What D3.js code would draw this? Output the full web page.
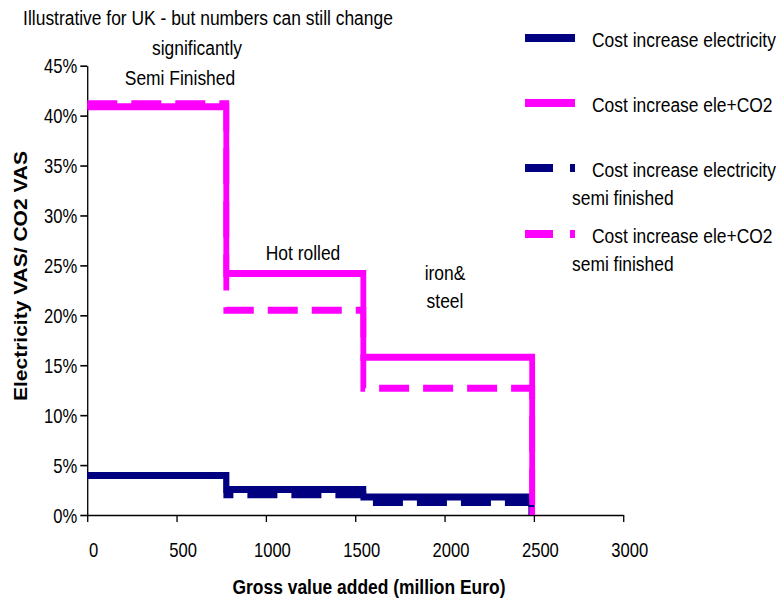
<!DOCTYPE html>
<html lang="en">
<head>
    <meta charset="UTF-8">
    <title>Cost increase chart</title>
    <script src="https://cdnjs.cloudflare.com/ajax/libs/d3/7.8.5/d3.min.js"></script>
    <style>
        body {
            margin: 0;
            padding: 0;
            background: #fff;
        }
        svg text {
            font-family: 'Liberation Sans', Arial, sans-serif;
            fill: #000;
        }
    </style>
</head>
<body>
    <div id="chart"></div>

    <script>
        // stage boundaries (million Euro) and the value each series takes on them (%)
        const stageStarts = [0, 778, 1545];
        const stageEnds = [2485, 2490, 2485, 2490];
        const elec = [3.95, 2.55, 1.8];
        const eleCO2 = [40.9, 24.2, 15.8];
        const elecSemi = [3.95, 2.03, 1.25];
        const eleCO2Semi = [41.2, 20.5, 12.7];

        const xTicks = [0, 500, 1000, 1500, 2000, 2500, 3000];
        const yTicks = [0, 5, 10, 15, 20, 25, 30, 35, 40, 45];

        const seriesNames = [
            ['Cost increase electricity'],
            ['Cost increase ele+CO2'],
            ['Cost increase electricity', 'semi finished'],
            ['Cost increase ele+CO2', 'semi finished']
        ];

        const series = [
            { values: elec, end: stageEnds[0], color: '#000080', dashed: false },
            { values: eleCO2, end: stageEnds[1], color: '#ff00ff', dashed: false },
            { values: elecSemi, end: stageEnds[2], color: '#000080', dashed: true },
            { values: eleCO2Semi, end: stageEnds[3], color: '#ff00ff', dashed: true }
        ];

        const width = 779, height = 598;
        // the original picture is squeezed horizontally, so draw everything in a scaled group
        const sx = 0.83;
        const px = v => v / sx;   // pixel x -> inner x

        const svg = d3.select('#chart').append('svg')
            .attr('width', width)
            .attr('height', height);
        const g = svg.append('g').attr('transform', `scale(${sx},1)`);

        const x = d3.scaleLinear().domain([0, 3000]).range([px(87.3), px(623.3)]);
        const y = d3.scaleLinear().domain([0, 45]).range([515, 65.7]);

        // axes
        const xAxis = g.append('g')
            .attr('transform', `translate(0,${y(0)})`)
            .call(d3.axisBottom(x).tickValues(xTicks).tickSize(7).tickSizeOuter(0)
                .tickFormat(d3.format('d')));
        const yAxis = g.append('g')
            .attr('transform', `translate(${x(0)},0)`)
            .call(d3.axisLeft(y).tickValues(yTicks).tickSize(px(7)).tickPadding(px(3)).tickSizeOuter(0)
                .tickFormat(d => d + '%'));

        [xAxis, yAxis].forEach(a => {
            a.select('.domain').attr('stroke', '#000').attr('stroke-width', 1.6);
            a.selectAll('.tick line').attr('stroke', '#000').attr('stroke-width', 1.6);
            a.selectAll('.tick text').style('font-size', '20px').attr('fill', '#000');
        });
        yAxis.selectAll('.tick text').attr('dy', '0.35em');
        xAxis.selectAll('.tick text').attr('dy', null).attr('y', 42).attr('dx', px(6));

        // step lines
        const line = d3.line()
            .x(d => x(d[0]))
            .y(d => y(d[1]))
            .curve(d3.curveStepAfter);

        series.forEach(s => {
            const pts = s.values.map((v, i) => [stageStarts[i], v]);
            pts.push([s.end, 0]);
            g.append('path')
                .datum(pts)
                .attr('d', line)
                .attr('fill', 'none')
                .attr('stroke', s.color)
                .attr('stroke-width', 7)
                .attr('stroke-dasharray', s.dashed ? [30, 14].map(px).join(',') : null);
        });

        // axis titles
        g.append('text')
            .attr('x', px(369))
            .attr('y', 594)
            .attr('text-anchor', 'middle')
            .style('font-size', '21px')
            .style('font-weight', 'bold')
            .text('Gross value added (million Euro)');

        g.append('text')
            .attr('transform', `translate(${px(27)},276) rotate(-90)`)
            .attr('text-anchor', 'middle')
            .style('font-size', '21px')
            .style('font-weight', 'bold')
            .text('Electricity VAS/ CO2 VAS');

        // annotations
        const notes = [
            { t: 'Illustrative for UK - but numbers can still change', x: 208, y: 25 },
            { t: 'significantly', x: 197, y: 55 },
            { t: 'Semi Finished', x: 180, y: 85 },
            { t: 'Hot rolled', x: 303, y: 260 },
            { t: 'iron&', x: 445, y: 280 },
            { t: 'steel', x: 445, y: 308 }
        ];
        g.append('g').selectAll('text')
            .data(notes)
            .join('text')
            .attr('x', d => px(d.x))
            .attr('y', d => d.y)
            .attr('text-anchor', 'middle')
            .style('font-size', '21px')
            .text(d => d.t);

        // legend
        const legendY = [38, 103, 168, 234];
        const legend = g.append('g');
        series.forEach((s, i) => {
            legend.append('line')
                .attr('x1', px(525)).attr('x2', px(575))
                .attr('y1', legendY[i]).attr('y2', legendY[i])
                .attr('stroke', s.color)
                .attr('stroke-width', 8)
                .attr('stroke-dasharray', s.dashed ? [28, 17, 5].map(px).join(',') : null);
            seriesNames[i].forEach((t, j) => {
                legend.append('text')
                    .attr('x', px(j === 0 ? 592 : 572))
                    .attr('y', legendY[i] + 9 + j * 28)
                    .style('font-size', '21px')
                    .text(t);
            });
        });
    </script>
</body>
</html>
